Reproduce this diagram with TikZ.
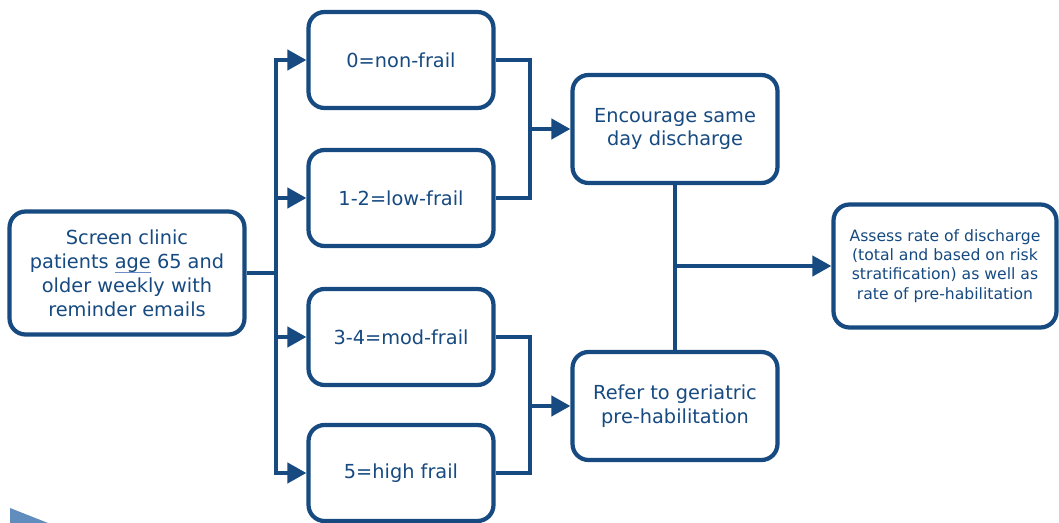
\documentclass[tikz,border=0pt]{standalone}
\usepackage{fontspec}
\setmainfont{DejaVu Sans}
\usetikzlibrary{arrows.meta}

\definecolor{flowblue}{RGB}{22,74,128}
\definecolor{slideblue}{RGB}{96,140,190}
\definecolor{markblue}{RGB}{110,140,200}

\newsavebox{\wordbox}
\newcommand{\markword}[1]{\sbox{\wordbox}{#1}%
	\rlap{\textcolor{markblue}{\rule[-2.6pt]{\wd\wordbox}{0.7pt}}}\usebox{\wordbox}}

\tikzset{
  stepbox/.style={draw=flowblue, line width=2.4pt, rounded corners=0.32cm,
    fill=white, text=flowblue, align=center, inner sep=2pt,
    font=\fontsize{11}{13.6}\selectfont},
  link/.style={draw=flowblue, line width=2.4pt},
  arr/.style={link, -{Triangle[length=0.38cm, width=0.4cm]}}
}

\begin{document}
\begin{tikzpicture}[x=0.02cm, y=-0.02cm]
			\useasboundingbox (0,0) rectangle (1059,523);
			% Slide corner
			\fill[slideblue] (10,508) -- (48,523) -- (10,523) -- cycle;
			% Screening
			\node[stepbox, minimum width=4.7cm, minimum height=2.46cm] (screen) at (127,273)
				{Screen clinic\\patients \markword{age} 65 and\\older weekly with\\reminder emails};
			% Frailty scores
			\node[stepbox, minimum width=3.7cm, minimum height=1.92cm] (nonfrail) at (401,60) {0=non-frail};
			\node[stepbox, minimum width=3.7cm, minimum height=1.92cm] (lowfrail) at (401,198) {1-2=low-frail};
			\node[stepbox, minimum width=3.7cm, minimum height=1.92cm] (modfrail) at (401,337) {3-4=mod-frail};
			\node[stepbox, minimum width=3.7cm, minimum height=1.92cm] (highfrail) at (401,473) {5=high frail};
			% Outcomes
			\node[stepbox, minimum width=4.1cm, minimum height=2.16cm] (samedisch) at (675,129)
				{Encourage same\\day discharge};
			\node[stepbox, minimum width=4.1cm, minimum height=2.16cm] (prehab) at (675,406)
				{Refer to geriatric\\pre-habilitation};
			\node[stepbox, minimum width=4.46cm, minimum height=2.46cm,
				font=\fontsize{8.9}{10.9}\selectfont] (assess) at (945,266)
				{Assess rate of discharge\\(total and based on risk\\stratification) as well as\\rate of pre-habilitation};
			% Branch points
			\coordinate (split) at (276,273);
			\coordinate (mergetop) at (530,129);
			\coordinate (mergebot) at (530,406);
			\coordinate (join) at (675,266);
			% Screening to scores
			\draw[link] (screen.east) -- (split);
			\draw[arr] (split) |- (nonfrail.west);
			\draw[arr] (split) |- (lowfrail.west);
			\draw[arr] (split) |- (modfrail.west);
			\draw[arr] (split) |- (highfrail.west);
			% Scores to outcomes
			\draw[link] (nonfrail.east) -| (mergetop) |- (lowfrail.east);
			\draw[arr] (mergetop) -- (samedisch.west);
			\draw[link] (modfrail.east) -| (mergebot) |- (highfrail.east);
			\draw[arr] (mergebot) -- (prehab.west);
			% Outcomes to assessment
			\draw[link] (samedisch.south) -- (prehab.north);
			\draw[arr] (join) -- (assess.west);
		\end{tikzpicture}
\end{document}
